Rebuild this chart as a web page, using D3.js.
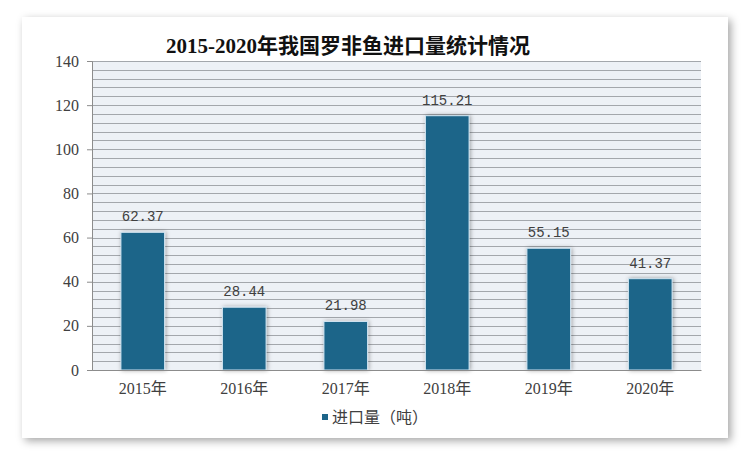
<!DOCTYPE html>
<html>
<head>
<meta charset="utf-8">
<script src="https://cdn.jsdelivr.net/npm/d3@7"></script>
<style>
  body { margin: 0; background: #ffffff; }
  svg { display: block; }
</style>
</head>
<body>
<svg id="chart" width="750" height="457"></svg>
<script>
// chart data
const years = ["2015年", "2016年", "2017年", "2018年", "2019年", "2020年"];
const imports = [62.37, 28.44, 21.98, 115.21, 55.15, 41.37];
const yTicks = [0, 20, 40, 60, 80, 100, 120, 140];
const gridStep = [0, 4, 8, 12, 16, 20, 24, 28, 32, 36, 40, 44, 48, 52, 56, 60, 64, 68,
  72, 76, 80, 84, 88, 92, 96, 100, 104, 108, 112, 116, 120, 124, 128, 132, 136, 140];
const seriesName = "进口量（吨）";
const title = "2015-2020年我国罗非鱼进口量统计情况";

const serif = "'Liberation Serif', 'Noto Sans CJK SC', serif";
const mono = "'Liberation Mono', 'Noto Sans CJK SC', monospace";

const svg = d3.select("#chart");

const padding = { top: 61, right: 49, bottom: 87, left: 92 };
const chartArea = {
  width: 750 - padding.left - padding.right,
  height: 457 - padding.top - padding.bottom
};

// shadowed frame
const defs = svg.append("defs");
const shadow = defs.append("filter").attr("id", "shadow")
  .attr("x", "-5%").attr("y", "-5%").attr("width", "110%").attr("height", "112%");
shadow.append("feDropShadow")
  .attr("dx", 3).attr("dy", 3).attr("stdDeviation", 4)
  .attr("flood-color", "#000").attr("flood-opacity", 0.35);

const barShadow = defs.append("filter").attr("id", "barShadow")
  .attr("x", "-20%").attr("y", "-10%").attr("width", "140%").attr("height", "120%");
barShadow.append("feDropShadow")
  .attr("dx", 1).attr("dy", 0).attr("stdDeviation", 2)
  .attr("flood-color", "#000").attr("flood-opacity", 0.35);

svg.append("rect")
  .attr("x", 22).attr("y", 17)
  .attr("width", 706).attr("height", 421)
  .attr("fill", "#fff")
  .attr("filter", "url(#shadow)");

const g = svg.append("g")
  .attr("transform", `translate(${padding.left},${padding.top})`);

// scales
const yScale = d3.scaleLinear()
  .domain([0, 140])
  .range([chartArea.height, 0]);

const xScale = d3.scaleBand()
  .domain(years)
  .range([0, chartArea.width])
  .paddingInner(0.57)
  .paddingOuter(0.285);

// plot background + grid
g.append("rect")
  .attr("width", chartArea.width)
  .attr("height", chartArea.height)
  .attr("fill", "#edf1f6");

g.selectAll(".grid")
  .data(gridStep)
  .enter().append("line")
  .attr("class", "grid")
  .attr("x1", 0).attr("x2", chartArea.width)
  .attr("y1", d => Math.round(yScale(d)) + 0.5)
  .attr("y2", d => Math.round(yScale(d)) + 0.5)
  .attr("stroke", "#a3a7ac")
  .attr("stroke-width", 1);

// bars
g.selectAll(".bar")
  .data(imports)
  .enter().append("rect")
  .attr("class", "bar")
  .attr("x", (d, i) => xScale(years[i]))
  .attr("width", xScale.bandwidth())
  .attr("y", d => yScale(d))
  .attr("height", d => chartArea.height - yScale(d))
  .attr("fill", "#1d6589")
  .attr("stroke", "#cfe3f0")
  .attr("stroke-width", 1)
  .attr("filter", "url(#barShadow)");

// value labels
g.selectAll(".label")
  .data(imports)
  .enter().append("text")
  .attr("class", "label")
  .attr("x", (d, i) => xScale(years[i]) + xScale.bandwidth() / 2)
  .attr("y", d => yScale(d) - 11)
  .attr("text-anchor", "middle")
  .attr("font-family", mono)
  .attr("font-size", 14)
  .attr("fill", "#404040")
  .text(d => d.toFixed(2));

// y axis
const yAxis = g.append("g")
  .call(d3.axisLeft(yScale).tickValues(yTicks).tickSize(5).tickPadding(8));
yAxis.select(".domain").attr("stroke", "#8c8c8c");
yAxis.selectAll(".tick line").attr("stroke", "#8c8c8c");
yAxis.selectAll("text")
  .attr("font-family", serif)
  .attr("font-size", 16)
  .attr("fill", "#404040");

// x axis
const xAxis = g.append("g")
  .attr("transform", `translate(0,${chartArea.height})`)
  .call(d3.axisBottom(xScale).tickSize(0).tickPadding(13));
xAxis.select(".domain").attr("stroke", "#8c8c8c");
xAxis.selectAll("text")
  .attr("font-family", serif)
  .attr("font-size", 16)
  .attr("fill", "#404040");

// title
svg.append("text")
  .attr("x", 348)
  .attr("y", 53)
  .attr("text-anchor", "middle")
  .attr("font-family", serif)
  .attr("font-size", 21)
  .attr("font-weight", "bold")
  .attr("fill", "#111")
  .text(title);

// legend
const legend = svg.append("g").attr("transform", "translate(322,417)");
legend.append("rect")
  .attr("x", 0).attr("y", -3)
  .attr("width", 6).attr("height", 6)
  .attr("fill", "#1d6589");
legend.append("text")
  .attr("x", 10)
  .attr("y", 6)
  .attr("font-family", serif)
  .attr("font-size", 16)
  .attr("fill", "#404040")
  .text(seriesName);
</script>
</body>
</html>
